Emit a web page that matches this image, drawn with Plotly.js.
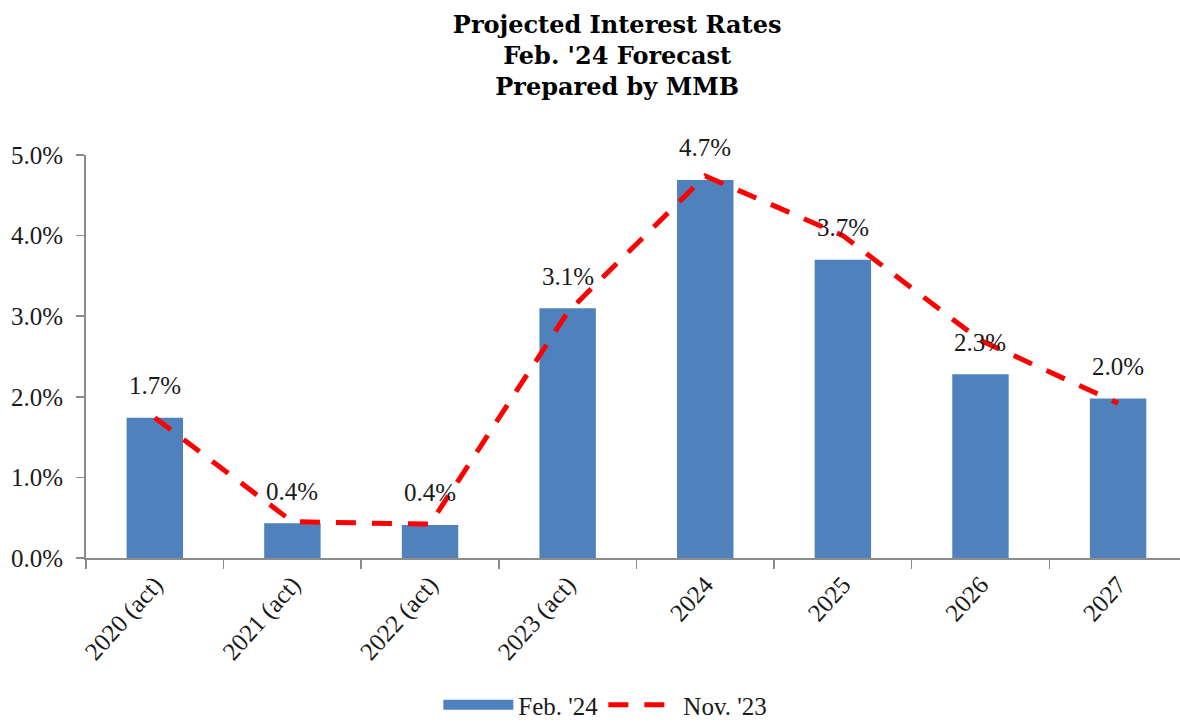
<!DOCTYPE html>
<html>
<head>
<meta charset="utf-8">
<script src="https://cdn.plot.ly/plotly-3.0.1.min.js"></script>
<style>html,body{margin:0;padding:0;background:#fff;}#chart{width:1180px;height:728px;}</style>
</head>
<body>
<div id="chart"></div>
<script>
const categories = ['2020 (act)', '2021 (act)', '2022 (act)', '2023 (act)', '2024', '2025', '2026', '2027'];
const feb24 = [1.74, 0.43, 0.41, 3.10, 4.69, 3.70, 2.28, 1.98];
const nov23 = [1.74, 0.45, 0.42, 3.05, 4.74, 4.00, 2.70, 1.92];
const seriesNames = ["Feb. '24", "Nov. '23"];

const serif = 'Liberation Serif, DejaVu Serif, serif';

const traces = [
  {
    type: 'bar', name: seriesNames[0], x: categories, y: feb24,
    marker: {color: '#4F81BD'}, width: 0.41, hoverinfo: 'skip', showlegend: false
  },
  {
    // legend entry for the bars (wide blue swatch like the original)
    type: 'scatter', mode: 'lines', name: seriesNames[0], x: [categories[0]], y: [null],
    line: {color: '#4F81BD', width: 10}, hoverinfo: 'skip'
  },
  {
    type: 'scatter', mode: 'lines', name: seriesNames[1], x: categories, y: nov23,
    line: {color: '#FF0000', width: 5, dash: '20px,16px'}, hoverinfo: 'skip'
  }
];

// data labels above the bars (x given as category index so "2024" etc. stay categorical)
const annotations = categories.map((c, i) => ({
  x: i, y: feb24[i], xref: 'x', yref: 'y',
  text: feb24[i].toFixed(1) + '%', showarrow: false,
  yanchor: 'middle', yshift: 32,
  font: {family: serif, size: 25, color: '#1a1a1a'}
}));

const layout = {
  width: 1180, height: 728,
  paper_bgcolor: '#ffffff', plot_bgcolor: '#ffffff',
  margin: {l: 86, r: 0, t: 155, b: 170},
  title: {
    text: '<b>Projected Interest Rates<br>Feb. \'24 Forecast<br>Prepared by MMB</b>',
    x: 0.523, xref: 'container', xanchor: 'center',
    y: 0.955, yref: 'container', yanchor: 'top',
    font: {family: 'DejaVu Serif, serif', size: 24, color: '#000000'}
  },
  xaxis: {
    type: 'category', range: [-0.5, 7.45],
    showline: true, linecolor: '#8c8c8c', linewidth: 2,
    ticks: 'outside', tickson: 'boundaries', ticklen: 9, tickcolor: '#8c8c8c', tickwidth: 1.5,
    tickangle: -48,
    tickfont: {family: serif, size: 25, color: '#1a1a1a'},
    showgrid: false, fixedrange: true
  },
  yaxis: {
    range: [0, 5], dtick: 1, tickformat: '.1f', ticksuffix: '%',
    showline: true, linecolor: '#8c8c8c', linewidth: 2,
    ticks: 'outside', ticklen: 8, tickcolor: '#8c8c8c', tickwidth: 1.5,
    ticklabelstandoff: 8,
    tickfont: {family: serif, size: 25, color: '#1a1a1a'},
    showgrid: false, zeroline: false, fixedrange: true
  },
  showlegend: true,
  legend: {
    orientation: 'h', x: 0.513, xanchor: 'center', xref: 'container',
    y: 0.0, yref: 'container', yanchor: 'bottom',
    font: {family: serif, size: 25, color: '#1a1a1a'},
    itemwidth: 70, traceorder: 'normal'
  },
  annotations: annotations
};

Plotly.newPlot('chart', traces, layout, {displayModeBar: false, staticPlot: true});
</script>
</body>
</html>
